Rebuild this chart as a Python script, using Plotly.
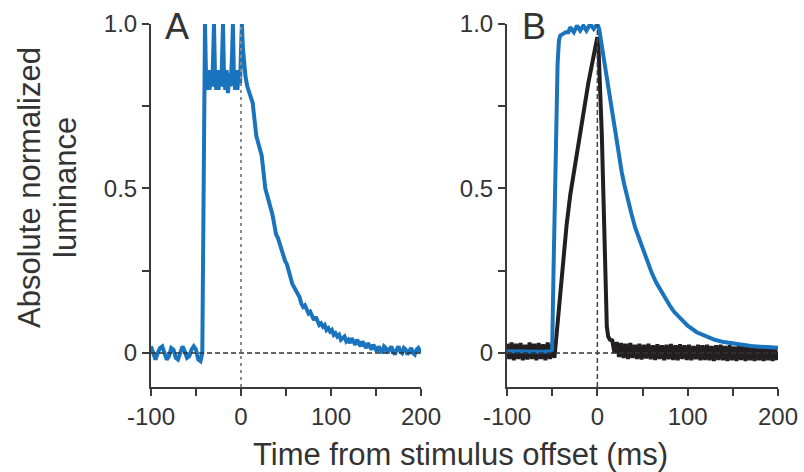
import plotly.graph_objects as go

# ---------------- data ----------------
# Panel A (blue trace)
a_t_base = [-100, -97.5, -95, -92.5, -90, -87.5, -85, -82.5, -80, -77.5, -75, -72.5,
            -70, -67.5, -65, -62.5, -60, -57.5, -55, -52.5, -50, -47.5, -45, -43]
a_y_base = [0.02, 0.0, -0.02, 0.0, 0.015, 0.02, 0.0, -0.02, -0.01, 0.015, 0.01, -0.015,
            -0.02, 0.005, 0.02, 0.005, -0.015, -0.01, 0.01, 0.02, 0.01, -0.02, -0.025, 0.0]
a_t_on = [-42, -41, -40, -39, -37.5, -36, -35, -33.5, -32, -31, -30, -29, -27.5, -26, -25,
          -23.5, -22, -21, -20, -19, -17.5, -16, -14.5, -13, -11.5, -10, -9, -8, -6.5, -5,
          -4, -2.5, -1, 0, 1, 2, 3.5, 5, 7, 9]
a_y_on = [0.5, 0.95, 1.0, 0.86, 0.80, 0.86, 0.80, 0.85, 0.81, 0.90, 1.0, 0.86, 0.80, 0.86,
          0.80, 0.85, 0.81, 0.90, 1.0, 0.86, 0.80, 0.86, 0.79, 0.85, 0.81, 0.90, 1.0, 0.86,
          0.80, 0.86, 0.80, 0.85, 0.82, 0.92, 1.0, 0.93, 0.88, 0.84, 0.81, 0.79]
a_t_off = [11, 13, 15, 17, 19, 21, 23, 25, 27, 29, 31, 33, 35, 37, 39, 41, 43, 45, 47, 49,
           51, 53, 55, 57, 59, 61, 63, 65, 67, 69, 71, 73, 75, 77, 79, 81, 83, 85, 87, 89,
           91, 93, 95, 97, 99, 101, 103, 105, 107, 109, 111, 113, 115, 117, 119, 121, 123,
           125, 127, 129, 131, 133, 135, 137, 139, 141, 143, 145, 147, 149, 151, 153, 155,
           157, 159, 161, 163, 165, 167, 169, 171, 173, 175, 177, 179, 181, 183, 185, 187,
           189, 191, 193, 195, 197, 199, 201]
a_y_off = [0.78, 0.76, 0.71, 0.66, 0.64, 0.62, 0.60, 0.55, 0.50, 0.48, 0.46, 0.45, 0.42,
           0.39, 0.36, 0.35, 0.33, 0.31, 0.30, 0.28, 0.27, 0.25, 0.22, 0.21, 0.20, 0.19,
           0.18, 0.17, 0.15, 0.14, 0.145, 0.13, 0.12, 0.125, 0.11, 0.10, 0.11, 0.10, 0.085,
           0.09, 0.08, 0.085, 0.07, 0.075, 0.065, 0.07, 0.055, 0.06, 0.05, 0.055, 0.04,
           0.045, 0.05, 0.035, 0.04, 0.03, 0.045, 0.035, 0.025, 0.04, 0.03, 0.02, 0.035,
           0.025, 0.015, 0.03, 0.02, 0.01, 0.025, 0.015, 0.005, 0.02, 0.01, 0.0, 0.02,
           0.015, 0.0, 0.01, 0.02, 0.005, -0.005, 0.01, 0.02, 0.005, 0.0, 0.015, 0.01,
           -0.005, 0.005, 0.015, 0.0, -0.005, 0.01, 0.015, 0.005, 0.01]

# Panel B (blue trace)
b_blue_t = [-100, -90, -80, -70, -60, -52, -50, -48.5, -47, -45.5, -44, -42.5, -41, -38,
            -35, -32, -30, -26, -22.5, -19, -15.5, -12, -8, -4, 0, 2, 4, 6, 9, 12, 15, 18,
            21, 24, 27, 30, 34, 38, 42, 46, 50, 55, 60, 65, 70, 75, 80, 85, 90, 95, 100,
            110, 120, 130, 140, 150, 160, 170, 180, 190, 200]
b_blue_y = [0.005, 0.004, 0.005, 0.005, 0.004, 0.005, 0.01, 0.25, 0.5, 0.72, 0.88, 0.95,
            0.965, 0.97, 0.975, 0.975, 0.99, 0.975, 0.995, 0.98, 0.995, 0.98, 1.0, 0.985,
            1.0, 0.985, 0.95, 0.91, 0.86, 0.80, 0.745, 0.69, 0.64, 0.59, 0.55, 0.51, 0.46,
            0.42, 0.38, 0.35, 0.32, 0.28, 0.245, 0.215, 0.19, 0.165, 0.145, 0.125, 0.11,
            0.095, 0.083, 0.063, 0.05, 0.04, 0.033, 0.028, 0.024, 0.021, 0.019, 0.017, 0.016]

# Panel B (black trace)
b_blk_t_base = [-100, -97.5, -95, -92.5, -90, -87.5, -85, -82.5, -80, -77.5, -75, -72.5,
                -70, -67.5, -65, -62.5, -60, -57.5, -55, -52.5, -50, -47.5]
b_blk_y_base = [0.028, -0.018, 0.032, -0.022, 0.028, -0.018, 0.03, -0.022, 0.025, -0.02,
                0.032, -0.018, 0.028, -0.022, 0.03, -0.018, 0.026, -0.022, 0.032, -0.018,
                0.028, -0.015]
b_blk_t_on = [-46, -45, -43, -40, -37, -34, -30, -25, -20, -15, -10, -5, -1, 0,
              1, 3, 5, 7, 9, 10.5, 12, 14]
b_blk_y_on = [0.03, 0.06, 0.13, 0.22, 0.31, 0.39, 0.48, 0.57, 0.66, 0.74, 0.82, 0.89,
              0.95, 0.96, 0.95, 0.82, 0.66, 0.45, 0.22, 0.08, 0.05, 0.04]
b_blk_t_tail = [16.5, 19, 21.5, 24, 26.5, 29, 31.5, 34, 36.5, 39, 41.5, 44, 46.5, 49,
                51.5, 54, 56.5, 59, 61.5, 64, 66.5, 69, 71.5, 74, 76.5, 79, 81.5, 84,
                86.5, 89, 91.5, 94, 96.5, 99, 101.5, 104, 106.5, 109, 111.5, 114, 116.5,
                119, 121.5, 124, 126.5, 129, 131.5, 134, 136.5, 139, 141.5, 144, 146.5,
                149, 151.5, 154, 156.5, 159, 161.5, 164, 166.5, 169, 171.5, 174, 176.5,
                179, 181.5, 184, 186.5, 189, 191.5, 194, 196.5, 199]
b_blk_y_tail = [0.038, 0.0, 0.033, -0.012, 0.03, -0.015, 0.028, -0.018, 0.03, -0.015,
                0.025, -0.018, 0.028, -0.02, 0.025, -0.017, 0.028, -0.019, 0.023, -0.021,
                0.026, -0.018, 0.023, -0.022, 0.025, -0.019, 0.027, -0.021, 0.023, -0.022,
                0.026, -0.018, 0.023, -0.021, 0.025, -0.022, 0.021, -0.019, 0.025, -0.022,
                0.023, -0.021, 0.025, -0.022, 0.021, -0.024, 0.023, -0.021, 0.025, -0.022,
                0.021, -0.024, 0.023, -0.022, 0.019, -0.024, 0.023, -0.021, 0.021, -0.024,
                0.023, -0.022, 0.019, -0.024, 0.021, -0.022, 0.023, -0.024, 0.019, -0.022,
                0.021, -0.024, 0.019, -0.022]

x_tickvals = [-100, -50, 0, 50, 100, 150, 200]
x_ticktext = ["-100", "", "0", "", "100", "", "200"]
y_tickvals = [0, 0.25, 0.5, 0.75, 1.0]
y_ticktext = ["0", "", "0.5", "", "1.0"]
panel_labels = ["A", "B"]
x_title = "Time from stimulus offset (ms)"
y_title_lines = ["Absolute normalized", "luminance"]

# ---------------- style ----------------
BLUE = "#1a73bd"
BLACK = "#231f20"
AXC = "#3a3a3a"
TXT = "#333333"
FONT = "Liberation Sans, Arial, sans-serif"

fig = go.Figure()

fig.add_trace(go.Scatter(x=a_t_base + a_t_on + a_t_off, y=a_y_base + a_y_on + a_y_off,
                         mode="lines", line=dict(color=BLUE, width=4),
                         xaxis="x", yaxis="y", showlegend=False))
fig.add_trace(go.Scatter(x=b_blk_t_base + b_blk_t_on + b_blk_t_tail,
                         y=b_blk_y_base + b_blk_y_on + b_blk_y_tail,
                         mode="lines", line=dict(color=BLACK, width=4),
                         xaxis="x2", yaxis="y2", showlegend=False))
fig.add_trace(go.Scatter(x=b_blue_t, y=b_blue_y, mode="lines",
                         line=dict(color=BLUE, width=4),
                         xaxis="x2", yaxis="y2", showlegend=False))

YR = [-0.1035, 1.0]
axis_common = dict(showline=True, linecolor=AXC, linewidth=2, ticks="outside",
                   ticklen=7, tickwidth=2, tickcolor=AXC, showgrid=False, zeroline=False,
                   tickfont=dict(family=FONT, size=24, color=TXT), automargin=False)

fig.update_layout(
    width=804, height=472,
    margin=dict(l=151, r=26, t=24, b=85),
    paper_bgcolor="white", plot_bgcolor="white",
    xaxis=dict(domain=[0, 0.4306], range=[-100, 200], tickvals=x_tickvals,
               ticktext=x_ticktext, anchor="y", **axis_common),
    yaxis=dict(domain=[0, 1], range=YR, tickvals=y_tickvals, ticktext=y_ticktext,
               anchor="x", **axis_common),
    xaxis2=dict(domain=[0.5678, 1.0], range=[-100, 200], tickvals=x_tickvals,
                ticktext=x_ticktext, anchor="y2", **axis_common),
    yaxis2=dict(domain=[0, 1], range=YR, tickvals=y_tickvals, ticktext=y_ticktext,
                anchor="x2", **axis_common),
)

shapes = []
for xr, yr in [("x", "y"), ("x2", "y2")]:
    shapes.append(dict(type="line", xref=xr, yref=yr, x0=-100, x1=200, y0=0, y1=0,
                       line=dict(color="#333333", width=1.5, dash="5px,3px")))
shapes.append(dict(type="line", xref="x", yref="y", x0=0, x1=0, y0=YR[0], y1=1.0,
                   line=dict(color="#8a8a8a", width=2, dash="3px,4px")))
shapes.append(dict(type="line", xref="x2", yref="y2", x0=0, x1=0, y0=YR[0], y1=1.0,
                   line=dict(color="#444444", width=1.5, dash="5px,3px")))
fig.update_layout(shapes=shapes)

ann = []
ann.append(dict(text=panel_labels[0], x=0.0191, y=0.992, xref="paper", yref="paper",
                xanchor="left", yanchor="middle", showarrow=False,
                font=dict(family=FONT, size=36, color=TXT)))
ann.append(dict(text=panel_labels[1], x=0.5885, y=0.992, xref="paper", yref="paper",
                xanchor="left", yanchor="middle", showarrow=False,
                font=dict(family=FONT, size=36, color=TXT)))
ann.append(dict(text=x_title, x=0.4944, y=-0.1873, xref="paper", yref="paper",
                xanchor="center", yanchor="middle", showarrow=False,
                font=dict(family=FONT, size=31, color=TXT)))
for xp, line in zip([-0.193, -0.1356], y_title_lines):
    ann.append(dict(text=line, x=xp, y=0.551, xref="paper", yref="paper",
                    xanchor="center", yanchor="middle", showarrow=False, textangle=-90,
                    font=dict(family=FONT, size=31, color=TXT)))
fig.update_layout(annotations=ann)

fig.write_html("out.html", config={"displayModeBar": False},
               post_script="document.body.style.margin='0';document.body.style.overflow='hidden';")
